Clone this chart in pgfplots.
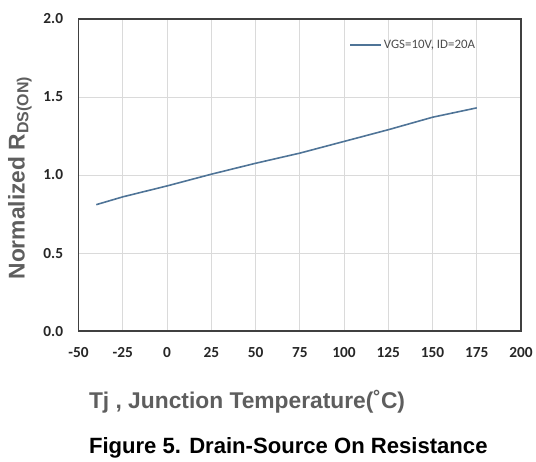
\documentclass[border=0pt]{standalone}
\usepackage{fontspec}
\setmainfont{Liberation Sans}
\newfontfamily\carlito{Carlito}
\usepackage{pgfplots}
\pgfplotsset{compat=1.18}
\definecolor{curve}{HTML}{4F7497}
\definecolor{gridc}{HTML}{DADADA}
\definecolor{labc}{HTML}{5E5E5E}
\begin{document}
\begin{tikzpicture}[x=1bp,y=1bp]
\path (0,0) rectangle (536,459);
\begin{axis}[
    at={(79bp,126bp)}, anchor=south west,
    scale only axis,
    width=445bp, height=314bp,
    xmin=-50, xmax=200, ymin=0, ymax=2,
    xtick={-50,-25,...,200},
    ytick={0,0.5,...,2},
    grid=major,
    grid style={gridc, line width=0.8bp},
    axis line style={draw=black!75, line width=1.3bp},
    major tick length=0pt,
    /pgf/number format/assume math mode=true,
    ticklabel style={font=\carlito\bfseries\fontsize{15.5}{17}\selectfont, text=black!85},
    yticklabel style={/pgf/number format/fixed, /pgf/number format/fixed zerofill,
        /pgf/number format/precision=1, xshift=-12bp},
    xticklabel style={yshift=-13bp},
    legend style={at={(0.612,0.917)}, anchor=west, draw=none, fill=none,
        inner sep=0pt, font=\carlito\fontsize{13}{15}\selectfont, text=black!70},
    legend image code/.code={\draw[#1] (0bp,0bp) -- (31bp,0bp);},
    legend cell align=left,
]
\addplot[curve, line width=1.6bp] coordinates {
    (-40,0.81) (-25,0.86) (0,0.93) (25,1.005) (50,1.075) (75,1.14)
    (100,1.215) (125,1.29) (150,1.37) (175,1.43)
};
\addlegendentry{VGS=10V, ID=20A}
\end{axis}
\node[rotate=90, text=labc, font=\bfseries\fontsize{23}{26}\selectfont] at (20,280) {Normalized R\textsubscript{DS(ON)}};
\node[text=labc, font=\bfseries\fontsize{23}{26}\selectfont, anchor=west] at (86,55) {Tj , Junction Temperature(\char"02DA C)};
\node[text=black, font=\bfseries\fontsize{22.3}{26}\selectfont, anchor=west] at (86,9) {Figure 5. Drain-Source On Resistance};
\end{tikzpicture}
\end{document}
